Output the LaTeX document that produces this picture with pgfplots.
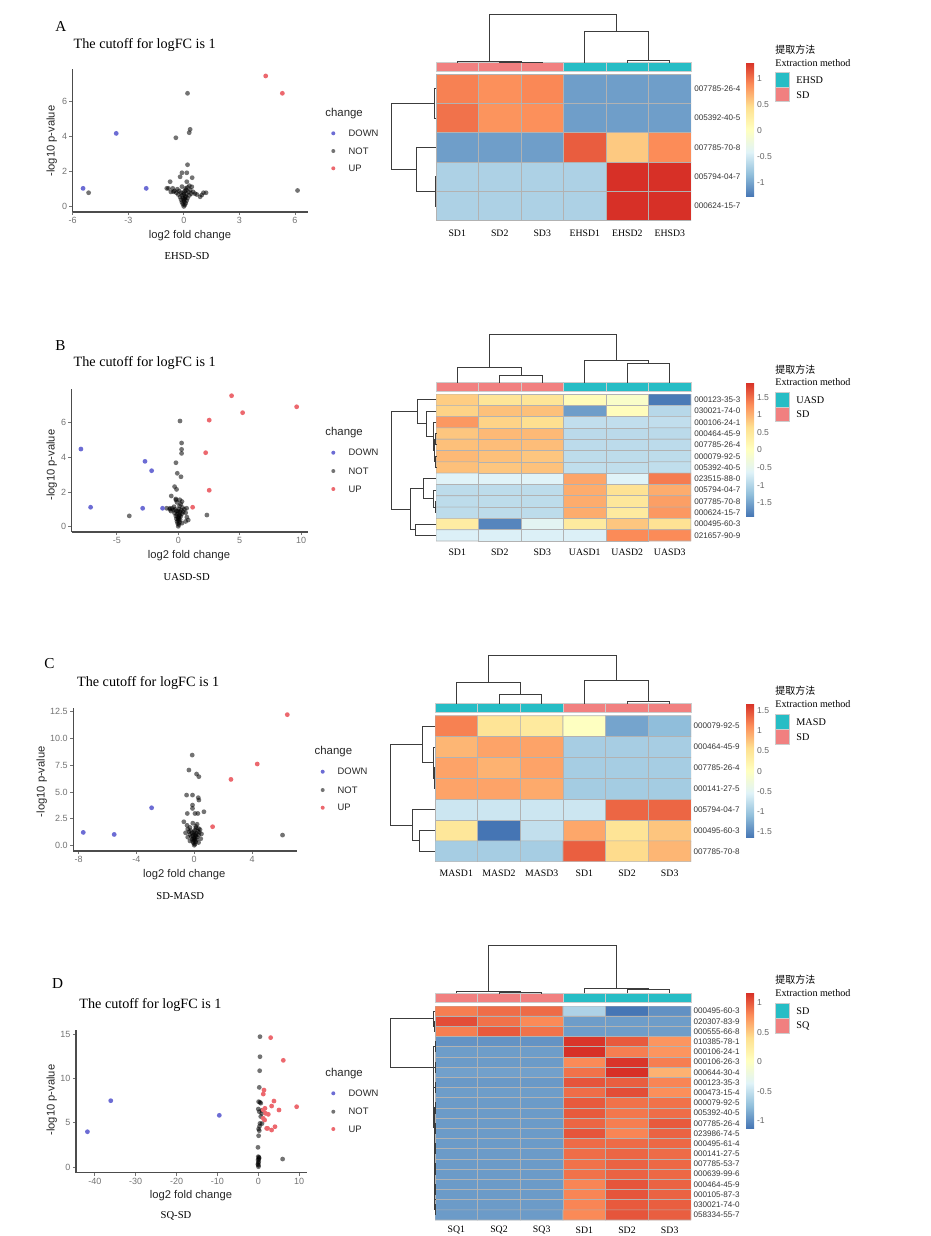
\documentclass[border=0pt]{standalone}
\usepackage{pgfplots}
\pgfplotsset{compat=1.18}
\usepackage{fontspec}
\setmainfont{Liberation Serif}
\newfontfamily\arial{Liberation Sans}
\newfontfamily\cjk{Noto Sans CJK SC}
\newcommand{\fs}[1]{\fontsize{#1}{#1}\selectfont}
\definecolor{annoteal}{RGB}{38,189,197}
\definecolor{annopink}{RGB}{241,128,128}
\definecolor{vdown}{RGB}{108,108,212}
\definecolor{vup}{RGB}{236,104,110}
\definecolor{dendro}{RGB}{60,60,60}
\pgfplotsset{
  colormap={rdylbu}{rgb255=(69,117,180) rgb255=(145,191,219) rgb255=(224,243,248) rgb255=(255,255,191) rgb255=(254,224,144) rgb255=(252,141,89) rgb255=(215,48,39)},
  volc/.style={scale only axis, anchor=south west, axis lines=left, axis line style={-, draw=black!70, line width=0.55pt}, tick align=outside, major tick length=1.6pt, tick style={draw=black!55, line width=0.45pt}, ticklabel style={font=\arial\fs{4.5}, text=black!55, inner sep=1pt}, clip=false},
  nt/.style={only marks, mark=*, mark size=1.2pt, mark options={draw opacity=0, fill=black, fill opacity=0.55}},
  dn/.style={only marks, mark=*, mark size=1.2pt, mark options={draw opacity=0, fill=vdown}},
  upp/.style={only marks, mark=*, mark size=1.2pt, mark options={draw opacity=0, fill=vup}},
  hm/.style={scale only axis, anchor=north west, enlargelimits=false, y dir=reverse, xmin=-0.5, xmax=5.5, axis line style={draw=none}, xtick=\empty, ytick=\empty, colormap name=rdylbu, colorbar,
    colorbar style={at={(parent axis.north east)}, anchor=north west, xshift=19pt, width=4pt, scale only axis, axis line style={draw=none}, tick style={draw=none}, yticklabel style={font=\arial\fs{4.3}, text=black!60, inner sep=0.5pt, xshift=0.8pt}}},
  cell/.style={matrix plot*, shader=faceted, faceted color=gray!60, line width=0.3pt, mesh/cols=6, point meta=explicit},
  dend/.style={draw=dendro, line width=0.45pt},
}
\tikzset{rl/.style={anchor=west, inner sep=0pt, font=\arial\fs{4.05}, text=black!80},
  cl/.style={inner sep=0pt, font=\fs{4.9}},
  ttl/.style={anchor=west, inner sep=0pt, font=\fs{7.1}},
  let/.style={anchor=west, inner sep=0pt, font=\fs{7.6}},
  axl/.style={inner sep=0pt, font=\arial\fs{5.6}, text=black!85},
  cmp/.style={inner sep=0pt, font=\fs{5.3}},
  lgt/.style={anchor=west, inner sep=0pt, font=\arial\fs{5.7}, text=black!85},
  lge/.style={anchor=west, inner sep=0pt, font=\arial\fs{4.7}, text=black!85},
  hlt/.style={anchor=west, inner sep=0pt, font=\fs{5.06}},
  hlc/.style={anchor=west, inner sep=0pt, font=\cjk\fs{5}},
  hle/.style={anchor=west, inner sep=0pt, font=\fs{5.1}}}
\newcommand{\acell}[5]{\addplot[fill=#5, draw=gray!40, line width=0.3pt] coordinates {(#1,#2) (#3,#2) (#3,#4) (#1,#4) (#1,#2)};}
\newcommand{\dd}[1]{\addplot[dend] coordinates {#1};}
\begin{document}
\begin{tikzpicture}
\path (0pt,0pt) rectangle (465.5pt,-618pt);
% ================= Volcano A
\begin{axis}[volc, at={(36.35pt,-106pt)}, width=117.8pt, height=71.35pt, xmin=-6.0, xmax=6.72, ymin=-0.3, ymax=7.85, xtick={-6,-3,0,3,6}, xticklabels={-6,-3,0,3,6}, ytick={0,2,4,6}, yticklabels={0,2,4,6}]
\addplot[nt] coordinates {(-5.14,0.8) (0.2,6.48) (0.34,4.42) (0.29,4.23) (-0.43,3.94) (0.2,2.4) (6.14,0.93) (-0.1,1.94) (0.16,1.94) (-0.2,1.71) (0.45,1.66) (-0.74,1.43) (0.16,1.43) (-0.83,1.05) (-0.92,1.05) (0.43,1.14) (1.06,0.8) (1.2,0.8) (0.88,0.57) (0.97,0.67) (-0.56,0.86)
(0,0.02) (0.05,0.1) (-0.05,0.15) (0.1,0.2) (-0.1,0.25) (0.02,0.3) (0.15,0.35) (-0.15,0.4) (0.05,0.45) (-0.05,0.5) (0.2,0.5) (-0.2,0.55) (0.1,0.6) (-0.1,0.65) (0.3,0.65) (-0.3,0.7) (0,0.7) (0.15,0.75) (-0.15,0.8) (0.4,0.75) (-0.4,0.8) (0.25,0.85) (-0.25,0.9) (0.05,0.9) (0.5,0.85) (-0.5,0.9) (0.35,0.95) (-0.35,1.0) (0.1,1.05) (-0.6,1.05) (0.2,1.1) (-0.1,1.15) (0.3,1.2) (0.6,0.75) (0.7,0.7) (-0.7,0.85) (0,0.4) (0.08,0.55) (-0.02,0.8) (0.12,0.95)};
\addplot[dn] coordinates {(-3.65,4.19) (-5.44,1.05) (-2.03,1.05)};
\addplot[upp] coordinates {(4.42,7.47) (5.32,6.48)};
\end{axis}
% ================= Volcano B
\begin{axis}[volc, at={(35.85pt,-266pt)}, width=118pt, height=71.35pt, xmin=-8.68, xmax=10.54, ymin=-0.31, ymax=7.93, xtick={-5,0,5,10}, xticklabels={-5,0,5,10}, ytick={0,2,4,6}, yticklabels={0,2,4,6}]
\addplot[nt] coordinates {(-3.99,0.62) (2.33,0.67) (0.14,6.1) (0.27,4.83) (0.27,4.46) (0.27,4.23) (-0.19,3.69) (-0.08,3.08) (0.22,2.88) (-0.3,2.31) (-0.14,2.15) (-0.57,1.77) (-0.19,1.54) (-0.95,1.06) (-0.68,1.06) (0.68,1.06) (0.81,0.38)
(0,0.02) (0.05,0.12) (-0.05,0.18) (0.1,0.25) (-0.1,0.3) (0.02,0.36) (0.15,0.4) (-0.15,0.45) (0.05,0.5) (-0.05,0.56) (0.2,0.6) (-0.2,0.62) (0.1,0.68) (-0.1,0.72) (0.3,0.75) (-0.3,0.78) (0,0.8) (0.15,0.85) (-0.15,0.9) (0.4,0.85) (-0.4,0.95) (0.25,0.95) (-0.25,1.0) (0.05,1.02) (0.5,1.0) (-0.5,1.05) (0.35,1.1) (-0.35,1.15) (0.1,1.2) (-0.6,0.9) (0.2,1.3) (-0.1,1.4) (0.3,1.45) (0.6,0.8) (0.7,0.55) (-0.7,1.0) (0,0.45) (0.08,0.6) (-0.02,0.9) (0.12,1.55) (-0.2,1.6) (0.6,0.3) (0.3,0.2)};
\addplot[dn] coordinates {(-7.93,4.48) (-2.71,3.77) (-2.17,3.23) (-7.14,1.12) (-2.9,1.06) (-1.28,1.06)};
\addplot[upp] coordinates {(4.34,7.56) (9.64,6.92) (5.24,6.58) (2.52,6.15) (2.23,4.27) (2.52,2.1) (1.17,1.12)};
\end{axis}
% ================= Volcano C
\begin{axis}[volc, at={(36.65pt,-425.5pt)}, width=111.7pt, height=71.35pt, xmin=-8.37, xmax=7.09, ymin=-0.49, ymax=12.78, xtick={-8,-4,0,4}, xticklabels={-8,-4,0,4}, ytick={0,2.5,5,7.5,10,12.5}, yticklabels={0.0,2.5,5.0,7.5,10.0,12.5}]
\addplot[nt] coordinates {(6.11,0.99) (-0.14,8.43) (-0.37,7.04) (0.16,6.67) (0.32,6.42) (-0.53,4.71) (-0.12,4.71) (0.28,4.47) (0.32,4.25) (-0.12,3.78) (-0.12,3.47) (-0.48,3.0) (0.05,3.0) (0.25,3.0) (0.67,3.16) (-0.72,2.23)
(0,0.05) (0.05,0.15) (-0.05,0.25) (0.1,0.35) (-0.1,0.4) (0.02,0.5) (0.15,0.55) (-0.15,0.6) (0.05,0.7) (-0.05,0.75) (0.2,0.8) (-0.2,0.85) (0.1,0.9) (-0.1,0.95) (0.3,1.0) (-0.3,1.05) (0,1.1) (0.15,1.15) (-0.15,1.2) (0.35,1.25) (-0.35,1.3) (0.25,1.35) (-0.25,1.4) (0.05,1.45) (0.4,1.5) (-0.45,1.55) (0.3,1.6) (-0.3,1.7) (0.1,1.8) (-0.5,1.9) (0.2,2.0) (-0.1,2.1) (0.3,0.3) (-0.3,0.45) (0.45,0.65) (-0.45,0.8) (0,0.6) (0.08,1.0) (-0.02,1.3) (0.12,1.65) (-0.6,1.2) (0.5,1.1)};
\addplot[dn] coordinates {(-7.68,1.24) (-5.54,1.05) (-2.95,3.53)};
\addplot[upp] coordinates {(6.44,12.19) (4.36,7.6) (2.54,6.17) (1.27,1.77)};
\end{axis}
% ================= Volcano D
\begin{axis}[volc, at={(38pt,-586.35pt)}, width=115.35pt, height=71.35pt, xmin=-44.6, xmax=11.84, ymin=-0.64, ymax=15.45, xtick={-40,-30,-20,-10,0,10}, xticklabels={-40,-30,-20,-10,0,10}, ytick={0,5,10,15}, yticklabels={0,5,10,15}]
\addplot[nt] coordinates {(0.41,14.7) (0.41,12.44) (0.33,10.86) (0.24,8.98) (0.08,7.37) (0.4,7.3) (0,6.54) (0.24,6.24) (0.82,6.05) (0.41,4.92) (0.08,4.29) (0.24,4.1) (0.08,3.53) (-0.08,2.22) (0,1.17) (0.15,1.1) (-0.05,0.8) (0.1,0.6) (0.04,0.04) (-0.1,0.3) (5.95,0.9) (0.6,7.2) (0.9,6.4) (0.6,5.7) (0.3,4.6) (0.9,4.9) (0.2,1.0) (0.1,0.9) (0,0.45) (0.05,0.2)};
\addplot[dn] coordinates {(-41.8,3.98) (-36.1,7.48) (-9.54,5.83)};
\addplot[upp] coordinates {(3.02,14.59) (6.12,12.03) (9.38,6.8) (3.83,7.44) (3.26,6.88) (5.06,6.43) (4.08,4.55) (3.26,4.17) (2.04,4.36) (1.79,6.05) (2.45,5.94) (1.22,5.49) (1.39,8.68) (1.22,8.23) (1.22,6.43) (1.63,6.62) (2.28,4.36) (1.55,5.3)};
\end{axis}
% ================= Heatmap A
\begin{axis}[hm, at={(218pt,-37pt)}, width=127.5pt, height=73.35pt, ymin=-0.5, ymax=4.5, point meta min=-1.29, point meta max=1.33,
  colorbar style={yshift=6pt, height=67.5pt, ytick={-1,-0.5,0,0.5,1}, yticklabels={-1,-0.5,0,0.5,1}}]
\addplot[cell] table[row sep=\\, meta=c] {x y c\\
0 0 0.95\\1 0 0.88\\2 0 0.92\\3 0 -1.05\\4 0 -1.05\\5 0 -1.05\\
0 1 1.02\\1 1 0.86\\2 1 0.88\\3 1 -1.05\\4 1 -1.05\\5 1 -1.05\\
0 2 -1.05\\1 2 -1.05\\2 2 -1.05\\3 2 1.12\\4 2 0.58\\5 2 0.9\\
0 3 -0.7\\1 3 -0.7\\2 3 -0.7\\3 3 -0.7\\4 3 1.33\\5 3 1.33\\
0 4 -0.7\\1 4 -0.7\\2 4 -0.7\\3 4 -0.7\\4 4 1.33\\5 4 1.33\\};
\end{axis}
% ================= Heatmap B
\begin{axis}[hm, at={(218pt,-197pt)}, width=127.5pt, height=73.5pt, ymin=-0.5, ymax=12.5, point meta min=-1.89, point meta max=1.92,
  colorbar style={yshift=5.85pt, height=67.2pt, ytick={-1.5,-1,-0.5,0,0.5,1,1.5}, yticklabels={-1.5,-1,-0.5,0,0.5,1,1.5}}]
\addplot[cell] table[row sep=\\, meta=c] {x y c\\
0 0 0.8\\1 0 0.55\\2 0 0.55\\3 0 0.1\\4 0 -0.1\\5 0 -1.85\\
0 1 0.75\\1 1 0.9\\2 1 0.9\\3 1 -1.55\\4 1 0.05\\5 1 -0.95\\
0 2 1.2\\1 2 0.75\\2 2 0.65\\3 2 -0.87\\4 2 -0.87\\5 2 -0.87\\
0 3 0.85\\1 3 0.95\\2 3 0.95\\3 3 -0.92\\4 3 -0.92\\5 3 -0.92\\
0 4 0.9\\1 4 0.92\\2 4 0.92\\3 4 -0.91\\4 4 -0.91\\5 4 -0.91\\
0 5 0.95\\1 5 0.9\\2 5 0.85\\3 5 -0.9\\4 5 -0.9\\5 5 -0.9\\
0 6 0.9\\1 6 0.85\\2 6 0.88\\3 6 -0.88\\4 6 -0.88\\5 6 -0.88\\
0 7 -0.62\\1 7 -0.62\\2 7 -0.62\\3 7 1.1\\4 7 -0.62\\5 7 1.4\\
0 8 -0.9\\1 8 -0.9\\2 8 -0.9\\3 8 1.05\\4 8 0.6\\5 8 1.05\\
0 9 -0.9\\1 9 -0.9\\2 9 -0.9\\3 9 1.05\\4 9 0.5\\5 9 1.15\\
0 10 -0.9\\1 10 -0.9\\2 10 -0.9\\3 10 1.05\\4 10 0.45\\5 10 1.2\\
0 11 0.4\\1 11 -1.75\\2 11 -0.55\\3 11 0.45\\4 11 0.85\\5 11 0.6\\
0 12 -0.65\\1 12 -0.65\\2 12 -0.65\\3 12 -0.65\\4 12 1.3\\5 12 1.3\\};
\end{axis}
% ================= Heatmap C
\begin{axis}[hm, at={(217.5pt,-357.85pt)}, width=128pt, height=73pt, ymin=-0.5, ymax=6.5, point meta min=-1.65, point meta max=1.68,
  colorbar style={yshift=6.2pt, height=67.2pt, ytick={-1.5,-1,-0.5,0,0.5,1,1.5}, yticklabels={-1.5,-1,-0.5,0,0.5,1,1.5}}]
\addplot[cell] table[row sep=\\, meta=c] {x y c\\
0 0 1.2\\1 0 0.5\\2 0 0.4\\3 0 0.0\\4 0 -1.3\\5 0 -1.1\\
0 1 0.85\\1 1 0.98\\2 1 0.98\\3 1 -0.94\\4 1 -0.94\\5 1 -0.94\\
0 2 0.98\\1 2 0.88\\2 2 0.98\\3 2 -0.95\\4 2 -0.95\\5 2 -0.95\\
0 3 0.98\\1 3 0.98\\2 3 0.93\\3 3 -0.96\\4 3 -0.96\\5 3 -0.96\\
0 4 -0.68\\1 4 -0.68\\2 4 -0.68\\3 4 -0.68\\4 4 1.36\\5 4 1.36\\
0 5 0.45\\1 5 -1.65\\2 5 -0.75\\3 5 0.95\\4 5 0.5\\5 5 0.75\\
0 6 -0.95\\1 6 -0.95\\2 6 -0.95\\3 6 1.4\\4 6 0.6\\5 6 0.85\\};
\end{axis}
% ================= Heatmap D
\begin{axis}[hm, at={(217.5pt,-503pt)}, width=128pt, height=107pt, ymin=-0.5, ymax=20.5, point meta min=-1.125, point meta max=1.17,
  colorbar style={yshift=6.65pt, height=67.8pt, ytick={-1,-0.5,0,0.5,1}, yticklabels={-1,-0.5,0,0.5,1}}]
\addplot[cell] table[row sep=\\, meta=c] {x y c\\
0 0 0.85\\1 0 0.92\\2 0 0.93\\3 0 -0.6\\4 0 -1.12\\5 0 -0.98\\
0 1 1.05\\1 1 0.9\\2 1 0.8\\3 1 -0.92\\4 1 -0.92\\5 1 -0.92\\
0 2 0.85\\1 2 1.0\\2 2 0.9\\3 2 -0.92\\4 2 -0.92\\5 2 -0.92\\
0 3 -0.97\\1 3 -0.97\\2 3 -0.97\\3 3 1.15\\4 3 1.0\\5 3 0.75\\
0 4 -0.92\\1 4 -0.92\\2 4 -0.92\\3 4 1.17\\4 4 0.85\\5 4 0.75\\
0 5 -0.93\\1 5 -0.93\\2 5 -0.93\\3 5 0.8\\4 5 1.15\\5 5 0.85\\
0 6 -0.9\\1 6 -0.9\\2 6 -0.9\\3 6 0.9\\4 6 1.17\\5 6 0.62\\
0 7 -0.94\\1 7 -0.94\\2 7 -0.94\\3 7 1.02\\4 7 0.98\\5 7 0.82\\
0 8 -0.92\\1 8 -0.92\\2 8 -0.92\\3 8 0.92\\4 8 1.05\\5 8 0.78\\
0 9 -0.93\\1 9 -0.93\\2 9 -0.93\\3 9 1.0\\4 9 0.9\\5 9 0.9\\
0 10 -0.93\\1 10 -0.93\\2 10 -0.93\\3 10 1.0\\4 10 0.88\\5 10 0.92\\
0 11 -0.93\\1 11 -0.93\\2 11 -0.93\\3 11 0.95\\4 11 0.85\\5 11 1.0\\
0 12 -0.93\\1 12 -0.93\\2 12 -0.93\\3 12 1.02\\4 12 0.82\\5 12 0.96\\
0 13 -0.93\\1 13 -0.93\\2 13 -0.93\\3 13 0.93\\4 13 0.93\\5 13 0.94\\
0 14 -0.93\\1 14 -0.93\\2 14 -0.93\\3 14 0.92\\4 14 0.95\\5 14 0.93\\
0 15 -0.93\\1 15 -0.93\\2 15 -0.93\\3 15 0.9\\4 15 0.96\\5 15 0.94\\
0 16 -0.93\\1 16 -0.93\\2 16 -0.93\\3 16 0.9\\4 16 0.96\\5 16 0.94\\
0 17 -0.93\\1 17 -0.93\\2 17 -0.93\\3 17 0.82\\4 17 1.02\\5 17 0.96\\
0 18 -0.93\\1 18 -0.93\\2 18 -0.93\\3 18 0.82\\4 18 1.02\\5 18 0.96\\
0 19 -0.93\\1 19 -0.93\\2 19 -0.93\\3 19 0.82\\4 19 1.0\\5 19 0.98\\
0 20 -0.93\\1 20 -0.93\\2 20 -0.93\\3 20 0.8\\4 20 1.02\\5 20 0.98\\};
\end{axis}
% ================= Overlay (pixel coordinates)
\begin{axis}[at={(0pt,0pt)}, anchor=north west, scale only axis, width=465.5pt, height=618pt, xmin=0, xmax=931, ymin=0, ymax=1236, y dir=reverse, hide axis, clip=false]
% ---- texts of volcano panels
\node[let] at (axis cs:55,26.7) {A};
\node[ttl] at (axis cs:73.3,45) {The cutoff for logFC is 1};
\node[axl] at (axis cs:190,235.7) {log2 fold change};
\node[axl, rotate=90] at (axis cs:51.7,141) {-log10 p-value};
\node[cmp] at (axis cs:187,256) {EHSD-SD};
\node[lgt] at (axis cs:325,113.3) {change};
\node[lge] at (axis cs:348.3,133.3) {DOWN};
\node[lge] at (axis cs:348.3,151) {NOT};
\node[lge] at (axis cs:348.3,168.3) {UP};
\addplot[dn, mark size=1pt] coordinates {(333.3,133.3)};
\addplot[nt, mark size=1pt] coordinates {(333.3,151)};
\addplot[upp, mark size=1pt] coordinates {(333.3,168.3)};

\node[let] at (axis cs:55,345.7) {B};
\node[ttl] at (axis cs:73.3,363.3) {The cutoff for logFC is 1};
\node[axl] at (axis cs:189,555.7) {log2 fold change};
\node[axl, rotate=90] at (axis cs:51.7,465) {-log10 p-value};
\node[cmp] at (axis cs:186.7,577.3) {UASD-SD};
\node[lgt] at (axis cs:325,432.7) {change};
\node[lge] at (axis cs:348.3,452.7) {DOWN};
\node[lge] at (axis cs:348.3,471) {NOT};
\node[lge] at (axis cs:348.3,489) {UP};
\addplot[dn, mark size=1pt] coordinates {(333.3,452.7)};
\addplot[nt, mark size=1pt] coordinates {(333.3,471)};
\addplot[upp, mark size=1pt] coordinates {(333.3,489)};

\node[let] at (axis cs:44,664) {C};
\node[ttl] at (axis cs:76.7,682.7) {The cutoff for logFC is 1};
\node[axl] at (axis cs:184.3,875) {log2 fold change};
\node[axl, rotate=90] at (axis cs:41.7,781.7) {-log10 p-value};
\node[cmp] at (axis cs:180.3,896) {SD-MASD};
\node[lgt] at (axis cs:314.3,751.7) {change};
\node[lge] at (axis cs:337.3,771.7) {DOWN};
\node[lge] at (axis cs:337.3,790) {NOT};
\node[lge] at (axis cs:337.3,807.7) {UP};
\addplot[dn, mark size=1pt] coordinates {(322.7,771.7)};
\addplot[nt, mark size=1pt] coordinates {(322.7,790)};
\addplot[upp, mark size=1pt] coordinates {(322.7,807.7)};

\node[let] at (axis cs:51.7,983.3) {D};
\node[ttl] at (axis cs:79,1005) {The cutoff for logFC is 1};
\node[axl] at (axis cs:191,1196) {log2 fold change};
\node[axl, rotate=90] at (axis cs:51.7,1100) {-log10 p-value};
\node[cmp] at (axis cs:176,1215.7) {SQ-SD};
\node[lgt] at (axis cs:325,1073.3) {change};
\node[lge] at (axis cs:348.3,1093.3) {DOWN};
\node[lge] at (axis cs:348.3,1111.7) {NOT};
\node[lge] at (axis cs:348.3,1129) {UP};
\addplot[dn, mark size=1pt] coordinates {(333.3,1093.3)};
\addplot[nt, mark size=1pt] coordinates {(333.3,1111.7)};
\addplot[upp, mark size=1pt] coordinates {(333.3,1129)};

% ---- heatmap A decorations
\acell{436}{62.7}{478.5}{71}{annopink}\acell{478.5}{62.7}{521}{71}{annopink}\acell{521}{62.7}{563.5}{71}{annopink}
\acell{563.5}{62.7}{606}{71}{annoteal}\acell{606}{62.7}{648.5}{71}{annoteal}\acell{648.5}{62.7}{691}{71}{annoteal}
\dd{(499.75,62.5) (499.75,62) (542.25,62) (542.25,62.5)}
\dd{(457.25,62.5) (457.25,61) (521,61) (521,62)}
\dd{(627.25,62.5) (627.25,60) (669.75,60) (669.75,62.5)}
\dd{(584.75,62.5) (584.75,31) (648.5,31) (648.5,60)}
\dd{(489.1,61) (489.1,14.7) (616.6,14.7) (616.6,31)}
\dd{(436,88.67) (434.5,88.67) (434.5,118) (436,118)}
\dd{(436,176.67) (435,176.67) (435,206) (436,206)}
\dd{(436,147.33) (416,147.33) (416,191.33) (435,191.33)}
\dd{(434.5,103.33) (391,103.33) (391,169.33) (416,169.33)}
\node[rl] at (axis cs:694,88.67) {007785-26-4};
\node[rl] at (axis cs:694,118) {005392-40-5};
\node[rl] at (axis cs:694,147.33) {007785-70-8};
\node[rl] at (axis cs:694,176.67) {005794-04-7};
\node[rl] at (axis cs:694,206) {000624-15-7};
\node[cl] at (axis cs:457.25,233) {SD1};
\node[cl] at (axis cs:499.75,233) {SD2};
\node[cl] at (axis cs:542.25,233) {SD3};
\node[cl] at (axis cs:584.75,233) {EHSD1};
\node[cl] at (axis cs:627.25,233) {EHSD2};
\node[cl] at (axis cs:669.75,233) {EHSD3};
\node[hlc] at (axis cs:775,50) {提取方法};
\node[hlt] at (axis cs:775,62.7) {Extraction method};
\acell{775}{72.7}{789}{87.3}{annoteal}\acell{775}{87.3}{789}{101.7}{annopink}
\node[hle] at (axis cs:796,80.5) {EHSD};
\node[hle] at (axis cs:796,94.8) {SD};

% ---- heatmap B decorations
\acell{436}{382.7}{478.5}{391}{annopink}\acell{478.5}{382.7}{521}{391}{annopink}\acell{521}{382.7}{563.5}{391}{annopink}
\acell{563.5}{382.7}{606}{391}{annoteal}\acell{606}{382.7}{648.5}{391}{annoteal}\acell{648.5}{382.7}{691}{391}{annoteal}
\dd{(499.75,382.7) (499.75,375) (542.25,375) (542.25,382.7)}
\dd{(457.25,382.7) (457.25,367.7) (521,367.7) (521,375)}
\dd{(627.25,382.7) (627.25,363.3) (669.75,363.3) (669.75,382.7)}
\dd{(584.75,382.7) (584.75,360.7) (648.5,360.7) (648.5,363.3)}
\dd{(489.1,367.7) (489.1,334.7) (616.6,334.7) (616.6,360.7)}
\dd{(436,433.58) (435.5,433.58) (435.5,444.89) (436,444.89)}
\dd{(436,456.2) (435.5,456.2) (435.5,467.51) (436,467.51)}
\dd{(435.5,439.24) (434.5,439.24) (434.5,461.86) (435.5,461.86)}
\dd{(436,422.27) (433.3,422.27) (433.3,450.55) (434.5,450.55)}
\dd{(436,410.96) (426.7,410.96) (426.7,436.41) (433.3,436.41)}
\dd{(436,399.65) (417.3,399.65) (417.3,423.69) (426.7,423.69)}
\dd{(436,501.44) (435,501.44) (435,512.75) (436,512.75)}
\dd{(436,490.13) (433.3,490.13) (433.3,507.1) (435,507.1)}
\dd{(436,478.82) (423.3,478.82) (423.3,498.6) (433.3,498.6)}
\dd{(436,524.06) (415,524.06) (415,535.37) (436,535.37)}
\dd{(423.3,488.7) (410,488.7) (410,529.7) (415,529.7)}
\dd{(417.3,411.67) (391,411.67) (391,509.2) (410,509.2)}
\node[rl] at (axis cs:694,399.65) {000123-35-3};
\node[rl] at (axis cs:694,410.96) {030021-74-0};
\node[rl] at (axis cs:694,422.27) {000106-24-1};
\node[rl] at (axis cs:694,433.58) {000464-45-9};
\node[rl] at (axis cs:694,444.89) {007785-26-4};
\node[rl] at (axis cs:694,456.2) {000079-92-5};
\node[rl] at (axis cs:694,467.51) {005392-40-5};
\node[rl] at (axis cs:694,478.82) {023515-88-0};
\node[rl] at (axis cs:694,490.13) {005794-04-7};
\node[rl] at (axis cs:694,501.44) {007785-70-8};
\node[rl] at (axis cs:694,512.75) {000624-15-7};
\node[rl] at (axis cs:694,524.06) {000495-60-3};
\node[rl] at (axis cs:694,535.37) {021657-90-9};
\node[cl] at (axis cs:457.25,552.3) {SD1};
\node[cl] at (axis cs:499.75,552.3) {SD2};
\node[cl] at (axis cs:542.25,552.3) {SD3};
\node[cl] at (axis cs:584.75,552.3) {UASD1};
\node[cl] at (axis cs:627.25,552.3) {UASD2};
\node[cl] at (axis cs:669.75,552.3) {UASD3};
\node[hlc] at (axis cs:775,369.3) {提取方法};
\node[hlt] at (axis cs:775,382) {Extraction method};
\acell{775}{392.7}{789}{407.3}{annoteal}\acell{775}{407.3}{789}{421.7}{annopink}
\node[hle] at (axis cs:796,400.3) {UASD};
\node[hle] at (axis cs:796,414.5) {SD};

% ---- heatmap C decorations
\acell{435}{703.7}{477.67}{712.7}{annoteal}\acell{477.67}{703.7}{520.33}{712.7}{annoteal}\acell{520.33}{703.7}{563}{712.7}{annoteal}
\acell{563}{703.7}{605.67}{712.7}{annopink}\acell{605.67}{703.7}{648.33}{712.7}{annopink}\acell{648.33}{703.7}{691}{712.7}{annopink}
\dd{(499,703.7) (499,694) (541.7,694) (541.7,703.7)}
\dd{(456.3,703.7) (456.3,682.7) (520.3,682.7) (520.3,694)}
\dd{(627,703.7) (627,701.7) (669.7,701.7) (669.7,703.7)}
\dd{(584.3,703.7) (584.3,680) (648.3,680) (648.3,701.7)}
\dd{(488.3,682.7) (488.3,655.7) (616.3,655.7) (616.3,680)}
\dd{(435,767.9) (434,767.9) (434,788.7) (435,788.7)}
\dd{(435,747) (433.3,747) (433.3,778.3) (434,778.3)}
\dd{(435,726.1) (422.7,726.1) (422.7,762.65) (433.3,762.65)}
\dd{(435,830.4) (419.3,830.4) (419.3,851.3) (435,851.3)}
\dd{(435,809.6) (412.3,809.6) (412.3,840.85) (419.3,840.85)}
\dd{(422.7,744.4) (390.7,744.4) (390.7,825.2) (412.3,825.2)}
\node[rl] at (axis cs:693.3,726.1) {000079-92-5};
\node[rl] at (axis cs:693.3,747) {000464-45-9};
\node[rl] at (axis cs:693.3,767.9) {007785-26-4};
\node[rl] at (axis cs:693.3,788.7) {000141-27-5};
\node[rl] at (axis cs:693.3,809.6) {005794-04-7};
\node[rl] at (axis cs:693.3,830.4) {000495-60-3};
\node[rl] at (axis cs:693.3,851.3) {007785-70-8};
\node[cl] at (axis cs:456.3,873.3) {MASD1};
\node[cl] at (axis cs:499,873.3) {MASD2};
\node[cl] at (axis cs:541.7,873.3) {MASD3};
\node[cl] at (axis cs:584.3,873.3) {SD1};
\node[cl] at (axis cs:627,873.3) {SD2};
\node[cl] at (axis cs:669.7,873.3) {SD3};
\node[hlc] at (axis cs:775,690.7) {提取方法};
\node[hlt] at (axis cs:775,704) {Extraction method};
\acell{775}{714}{789}{729.3}{annoteal}\acell{775}{729.3}{789}{744}{annopink}
\node[hle] at (axis cs:796,721.7) {MASD};
\node[hle] at (axis cs:796,736.7) {SD};

% ---- heatmap D decorations
\acell{435}{993.3}{477.67}{1002.3}{annopink}\acell{477.67}{993.3}{520.33}{1002.3}{annopink}\acell{520.33}{993.3}{563}{1002.3}{annopink}
\acell{563}{993.3}{605.67}{1002.3}{annoteal}\acell{605.67}{993.3}{648.33}{1002.3}{annoteal}\acell{648.33}{993.3}{691}{1002.3}{annoteal}
\dd{(499,993.3) (499,992.5) (541.7,992.5) (541.7,993.3)}
\dd{(456.3,993.3) (456.3,991.7) (520.3,991.7) (520.3,992.5)}
\dd{(627,993.3) (627,989.5) (669.7,989.5) (669.7,993.3)}
\dd{(584.3,993.3) (584.3,988.3) (648.3,988.3) (648.3,989.5)}
\dd{(488.3,991.7) (488.3,945.7) (616.3,945.7) (616.3,988.3)}
\dd{(435,1021.3) (434,1021.3) (434,1031.5) (435,1031.5)}
\dd{(435,1011.1) (433.3,1011.1) (433.3,1026.4) (434,1026.4)}
\dd{(435,1041.7) (435.7,1041.7) (435.7,1051.9) (435,1051.9)}
\dd{(435,1062.1) (435.7,1062.1) (435.7,1072.2) (435,1072.2)}
\dd{(435,1082.4) (435.7,1082.4) (435.7,1092.6) (435,1092.6)}
\dd{(435,1102.8) (435.7,1102.8) (435.7,1113) (435,1113)}
\dd{(435,1123.2) (435.7,1123.2) (435.7,1133.4) (435,1133.4)}
\dd{(435,1143.6) (435.7,1143.6) (435.7,1153.8) (435,1153.8)}
\dd{(435,1163.9) (435.7,1163.9) (435.7,1174.1) (435,1174.1)}
\dd{(435,1184.3) (435.7,1184.3) (435.7,1194.5) (435,1194.5)}
\dd{(435,1204.7) (435.7,1204.7) (435.7,1214.9) (435,1214.9)}
\dd{(435,1189.4) (434.8,1189.4) (434.8,1209.8) (435,1209.8)}
\dd{(435,1169) (434.6,1169) (434.6,1199.6) (434.8,1199.6)}
\dd{(435,1148.7) (434.4,1148.7) (434.4,1184.3) (434.6,1184.3)}
\dd{(435,1128.3) (434.2,1128.3) (434.2,1166.5) (434.4,1166.5)}
\dd{(435,1107.9) (434.0,1107.9) (434.0,1147.4) (434.2,1147.4)}
\dd{(435,1087.5) (433.8,1087.5) (433.8,1127.65) (434.0,1127.65)}
\dd{(435,1067.15) (433.6,1067.15) (433.6,1107.6) (433.8,1107.6)}
\dd{(435,1046.8) (433.4,1046.8) (433.4,1087.4) (433.6,1087.4)}
\dd{(433.3,1018.75) (390,1018.75) (390,1067.1) (433.4,1067.1)}
\node[rl] at (axis cs:693.3,1011.1) {000495-60-3};
\node[rl] at (axis cs:693.3,1021.3) {020307-83-9};
\node[rl] at (axis cs:693.3,1031.5) {000555-66-8};
\node[rl] at (axis cs:693.3,1041.7) {010385-78-1};
\node[rl] at (axis cs:693.3,1051.9) {000106-24-1};
\node[rl] at (axis cs:693.3,1062.1) {000106-26-3};
\node[rl] at (axis cs:693.3,1072.2) {000644-30-4};
\node[rl] at (axis cs:693.3,1082.4) {000123-35-3};
\node[rl] at (axis cs:693.3,1092.6) {000473-15-4};
\node[rl] at (axis cs:693.3,1102.8) {000079-92-5};
\node[rl] at (axis cs:693.3,1113.0) {005392-40-5};
\node[rl] at (axis cs:693.3,1123.2) {007785-26-4};
\node[rl] at (axis cs:693.3,1133.4) {023986-74-5};
\node[rl] at (axis cs:693.3,1143.6) {000495-61-4};
\node[rl] at (axis cs:693.3,1153.8) {000141-27-5};
\node[rl] at (axis cs:693.3,1163.9) {007785-53-7};
\node[rl] at (axis cs:693.3,1174.1) {000639-99-6};
\node[rl] at (axis cs:693.3,1184.3) {000464-45-9};
\node[rl] at (axis cs:693.3,1194.5) {000105-87-3};
\node[rl] at (axis cs:693.3,1204.7) {030021-74-0};
\node[rl] at (axis cs:693.3,1214.9) {058334-55-7};
\node[cl] at (axis cs:456.3,1230) {SQ1};
\node[cl] at (axis cs:499,1230) {SQ2};
\node[cl] at (axis cs:541.7,1230) {SQ3};
\node[cl] at (axis cs:584.3,1230) {SD1};
\node[cl] at (axis cs:627,1230) {SD2};
\node[cl] at (axis cs:669.7,1230) {SD3};
\node[hlc] at (axis cs:775,980) {提取方法};
\node[hlt] at (axis cs:775,993.3) {Extraction method};
\acell{775}{1003.3}{789}{1018.3}{annoteal}\acell{775}{1018.3}{789}{1033.3}{annopink}
\node[hle] at (axis cs:796,1010.8) {SD};
\node[hle] at (axis cs:796,1025.8) {SQ};
\end{axis}
\end{tikzpicture}
\end{document}
